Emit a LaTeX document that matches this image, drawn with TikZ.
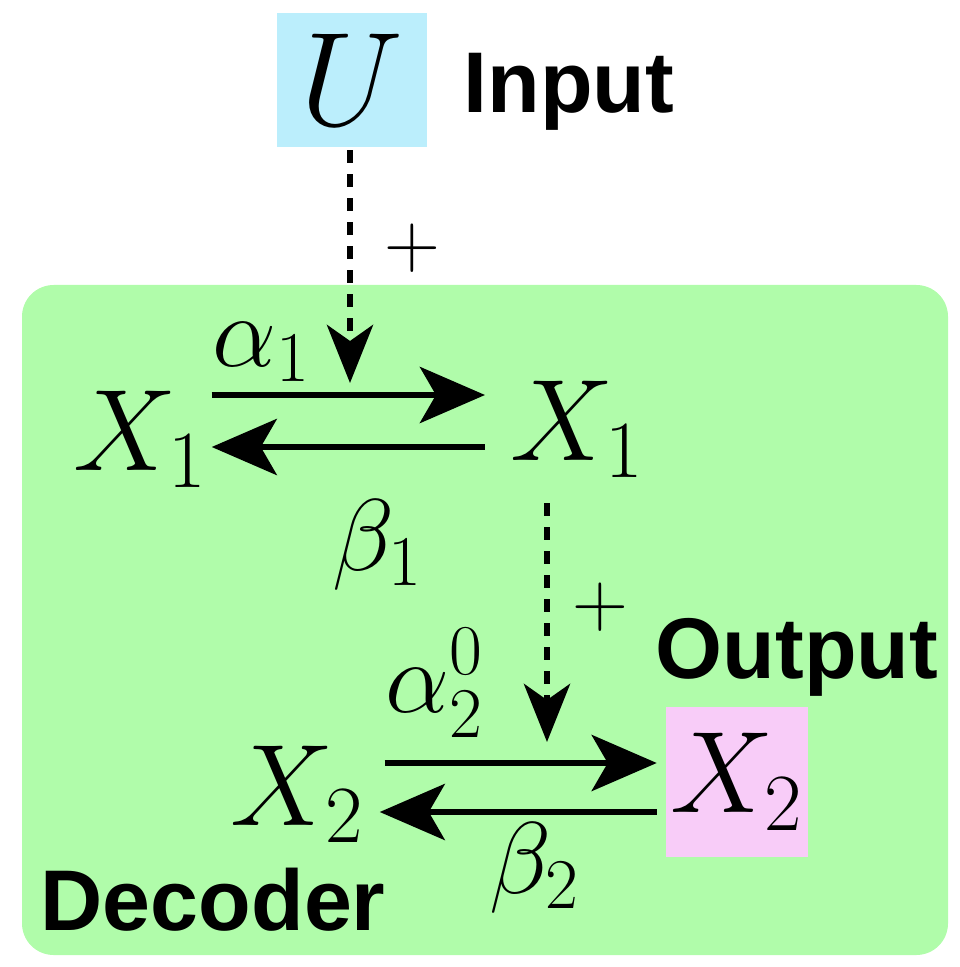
\RequirePackage{fix-cm}
\documentclass[tikz,border=0pt]{standalone}
\usepackage{fontspec}
\newfontfamily\labelfont{Liberation Sans}
\usetikzlibrary{arrows.meta,positioning}

\definecolor{decodergreen}{RGB}{176,252,170}
\definecolor{inputblue}{RGB}{187,238,252}
\definecolor{outputpink}{RGB}{248,204,248}

\tikzset{
  var/.style={inner sep=0pt, font=\fontsize{33}{40}\selectfont},
  invar/.style={inner sep=0pt, font=\fontsize{38}{44}\selectfont},
  ratelabel/.style={inner sep=0pt, font=\fontsize{29}{34}\selectfont},
  signlabel/.style={inner sep=0pt, font=\fontsize{22}{26}\selectfont},
  tag/.style={inner sep=0pt, font=\labelfont\bfseries\fontsize{24.5}{28}\selectfont},
  rate/.style={line width=1.8pt, -{Stealth[length=6.5mm,width=5.6mm,inset=1.6mm]}},
  feed/.style={line width=1.8pt, dash pattern=on 1.3mm off 1.1mm,
    -{Stealth[length=5.8mm,width=4.6mm,inset=1.6mm]}}
}

\begin{document}
\begin{tikzpicture}[x=0.01cm,y=-0.01cm]
\useasboundingbox (0,0) rectangle (959,967);

% Coordinates
\coordinate (in1) at (350,383);
\coordinate (r1top) at (0,395);
\coordinate (r1bot) at (0,447);
\coordinate (in2) at (547,742);
\coordinate (r2top) at (0,763);
\coordinate (r2bot) at (0,812);

% Decoder box
\fill[decodergreen, rounded corners=9pt] (22,285) rectangle (948,955);

% Input and output
\node[invar, fill=inputblue, minimum width=1.5cm, minimum height=1.33cm] (U) at (352,80) {$U$};
\node[tag, anchor=base west] (input) at (463,113) {Input};
\node[tag, anchor=base west] (output) at (655,678) {Output};
\node[tag, anchor=base west] (decoder) at (40,930) {Decoder};

% Species
\node[var, anchor=base west] (X1a) at (73,470) {$X_1$};
\node[var, anchor=base west] (X1b) at (510,460) {$X_1$};
\node[var, anchor=base west] (X2a) at (230,825) {$X_2$};
\node[var, fill=outputpink, minimum width=1.41cm, minimum height=1.49cm] (X2b) at (737,782) {$X_2$};

% Labels
\node[signlabel] (plus1) at (412,248) {$+$};
\node[signlabel] (plus2) at (600,607) {$+$};
\node[ratelabel] (a1) at (262,352) {$\alpha_1$};
\node[ratelabel] (b1) at (378,545) {$\beta_1$};
\node[ratelabel, anchor=base west] (a2) at (385,712) {$\alpha_2^0$};
\node[ratelabel] (b2) at (535,868) {$\beta_2$};

% Reactions
\draw[rate, shorten <=0.04cm, shorten >=0.25cm] (X1a.east |- r1top) -- (X1b.west |- r1top);
\draw[rate, shorten <=0.25cm, shorten >=0.04cm] (X1b.west |- r1bot) -- (X1a.east |- r1bot);
\draw[rate, shorten <=0.2cm, shorten >=0.09cm] (X2a.east |- r2top) -- (X2b.west |- r2top);
\draw[rate, shorten <=0.09cm, shorten >=0.15cm] (X2b.west |- r2bot) -- (X2a.east |- r2bot);

% Feeds
\draw[feed, shorten <=0.03cm] (U.south -| in1) -- (in1);
\draw[feed, shorten <=0.25cm] (X1b.south -| in2) -- (in2);

\end{tikzpicture}
\end{document}
